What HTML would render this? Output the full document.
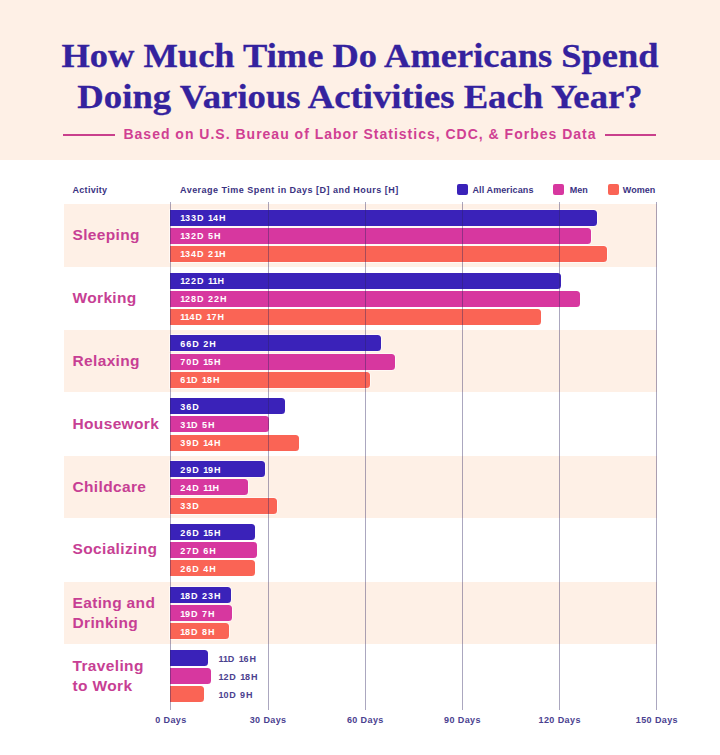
<!DOCTYPE html>
<html><head><meta charset="utf-8"><style>
html,body{margin:0;padding:0;background:#fff;}
body{width:720px;height:755px;position:relative;overflow:hidden;font-family:"Liberation Sans",sans-serif;}
.hdr{position:absolute;left:0;top:0;width:720px;height:160px;background:#fef0e6;}
.t1,.t2{position:absolute;left:0;width:720px;text-align:center;font-family:"Liberation Serif",serif;font-weight:bold;color:#34229e;white-space:nowrap;}
.t1{top:36.1px;font-size:34px;line-height:40px;transform:scaleX(1.072);-webkit-text-stroke:0.3px #34229e;}
.t2{top:76.8px;font-size:34px;line-height:40px;transform:scaleX(1.079);-webkit-text-stroke:0.3px #34229e;}
.sub{position:absolute;left:0;width:720px;top:123.5px;line-height:20px;text-align:center;font-size:14px;font-weight:bold;color:#d03f93;letter-spacing:1.0px;white-space:nowrap;}
.ln{position:absolute;top:133.8px;height:2px;background:#c9408c;}
.hd{position:absolute;top:184px;font-size:9px;line-height:12px;font-weight:bold;color:#3a3282;white-space:nowrap;}
.sq{position:absolute;top:184px;width:11px;height:11px;border-radius:2px;}
.band{position:absolute;left:64px;width:593px;background:#fef0e6;}
.grid{position:absolute;top:201.7px;height:508px;width:1.2px;background:rgba(45,35,95,0.4);}
.lab{position:absolute;left:72.5px;height:62px;line-height:62px;font-size:15.5px;font-weight:bold;color:#c73f94;letter-spacing:0.35px;white-space:nowrap;}
.lab.two{line-height:20px;padding-top:11px;height:auto;}
.bar{position:absolute;border-radius:0 3.5px 3.5px 0;box-shadow:0 0 0 0.8px rgba(255,255,255,0.8);}
.bt{position:absolute;font-size:9px;font-weight:bold;color:#fff;white-space:nowrap;letter-spacing:1.0px;}
.bt i{font-style:normal;letter-spacing:-0.1px;}
.bt.out{color:#4b418f;letter-spacing:0.9px;}
.ax{position:absolute;top:714px;width:80px;text-align:center;font-size:9px;line-height:12px;font-weight:bold;color:#4a4190;letter-spacing:0.4px;}
</style></head><body>
<div class="hdr"></div>
<div class="t1">How Much Time Do Americans Spend</div>
<div class="t2">Doing Various Activities Each Year?</div>
<div class="ln" style="left:63px;width:52px"></div>
<div class="sub">Based on U.S. Bureau of Labor Statistics, CDC, &amp; Forbes Data</div>
<div class="ln" style="left:605px;width:51px"></div>
<div class="hd" style="left:72.5px;letter-spacing:0.3px">Activity</div>
<div class="hd" style="left:180px;letter-spacing:0.48px">Average Time Spent in Days [D] and Hours [H]</div>
<div class="sq" style="left:457px;background:#3a22b9"></div>
<div class="hd" style="left:472.5px;letter-spacing:0.1px">All Americans</div>
<div class="sq" style="left:553px;background:#d7379f"></div>
<div class="hd" style="left:569.7px">Men</div>
<div class="sq" style="left:607.5px;background:#fa6455"></div>
<div class="hd" style="left:622.8px">Women</div>
<div class="band" style="top:204.30px;height:62.3px"></div>
<div class="band" style="top:330.16px;height:62.3px"></div>
<div class="band" style="top:456.02px;height:62.3px"></div>
<div class="band" style="top:581.88px;height:62.3px"></div>
<div class="lab" style="top:203.80px">Sleeping</div>
<div class="bar" style="top:209.60px;left:170.20px;width:426.40px;height:16px;background:#3a22b9"></div>
<div class="bt" style="top:210.20px;left:180.2px;height:16px;line-height:16px"><i>1</i>33D <i>1</i>4H</div>
<div class="bar" style="top:227.70px;left:170.20px;width:420.40px;height:16px;background:#d7379f"></div>
<div class="bt" style="top:228.30px;left:180.2px;height:16px;line-height:16px"><i>1</i>32D 5H</div>
<div class="bar" style="top:245.80px;left:170.20px;width:437.20px;height:16px;background:#fa6455"></div>
<div class="bt" style="top:246.40px;left:180.2px;height:16px;line-height:16px"><i>1</i>34D 2<i>1</i>H</div>
<div class="lab" style="top:266.73px">Working</div>
<div class="bar" style="top:272.53px;left:170.20px;width:391.10px;height:16px;background:#3a22b9"></div>
<div class="bt" style="top:273.13px;left:180.2px;height:16px;line-height:16px"><i>1</i>22D <i>1</i><i>1</i>H</div>
<div class="bar" style="top:290.63px;left:170.20px;width:409.70px;height:16px;background:#d7379f"></div>
<div class="bt" style="top:291.23px;left:180.2px;height:16px;line-height:16px"><i>1</i>28D 22H</div>
<div class="bar" style="top:308.73px;left:170.20px;width:371.30px;height:16px;background:#fa6455"></div>
<div class="bt" style="top:309.33px;left:180.2px;height:16px;line-height:16px"><i>1</i><i>1</i>4D <i>1</i>7H</div>
<div class="lab" style="top:329.66px">Relaxing</div>
<div class="bar" style="top:335.46px;left:170.20px;width:211.00px;height:16px;background:#3a22b9"></div>
<div class="bt" style="top:336.06px;left:180.2px;height:16px;line-height:16px">66D 2H</div>
<div class="bar" style="top:353.56px;left:170.20px;width:224.80px;height:16px;background:#d7379f"></div>
<div class="bt" style="top:354.16px;left:180.2px;height:16px;line-height:16px">70D <i>1</i>5H</div>
<div class="bar" style="top:371.66px;left:170.20px;width:199.80px;height:16px;background:#fa6455"></div>
<div class="bt" style="top:372.26px;left:180.2px;height:16px;line-height:16px">6<i>1</i>D <i>1</i>8H</div>
<div class="lab" style="top:392.59px">Housework</div>
<div class="bar" style="top:398.39px;left:170.20px;width:115.30px;height:16px;background:#3a22b9"></div>
<div class="bt" style="top:398.99px;left:180.2px;height:16px;line-height:16px">36D</div>
<div class="bar" style="top:416.49px;left:170.20px;width:99.30px;height:16px;background:#d7379f"></div>
<div class="bt" style="top:417.09px;left:180.2px;height:16px;line-height:16px">3<i>1</i>D 5H</div>
<div class="bar" style="top:434.59px;left:170.20px;width:128.50px;height:16px;background:#fa6455"></div>
<div class="bt" style="top:435.19px;left:180.2px;height:16px;line-height:16px">39D <i>1</i>4H</div>
<div class="lab" style="top:455.52px">Childcare</div>
<div class="bar" style="top:461.32px;left:170.20px;width:95.30px;height:16px;background:#3a22b9"></div>
<div class="bt" style="top:461.92px;left:180.2px;height:16px;line-height:16px">29D <i>1</i>9H</div>
<div class="bar" style="top:479.42px;left:170.20px;width:77.60px;height:16px;background:#d7379f"></div>
<div class="bt" style="top:480.02px;left:180.2px;height:16px;line-height:16px">24D <i>1</i><i>1</i>H</div>
<div class="bar" style="top:497.52px;left:170.20px;width:106.50px;height:16px;background:#fa6455"></div>
<div class="bt" style="top:498.12px;left:180.2px;height:16px;line-height:16px">33D</div>
<div class="lab" style="top:518.45px">Socializing</div>
<div class="bar" style="top:524.25px;left:170.20px;width:84.90px;height:16px;background:#3a22b9"></div>
<div class="bt" style="top:524.85px;left:180.2px;height:16px;line-height:16px">26D <i>1</i>5H</div>
<div class="bar" style="top:542.35px;left:170.20px;width:86.90px;height:16px;background:#d7379f"></div>
<div class="bt" style="top:542.95px;left:180.2px;height:16px;line-height:16px">27D 6H</div>
<div class="bar" style="top:560.45px;left:170.20px;width:84.70px;height:16px;background:#fa6455"></div>
<div class="bt" style="top:561.05px;left:180.2px;height:16px;line-height:16px">26D 4H</div>
<div class="lab two" style="top:582.38px">Eating and<br>Drinking</div>
<div class="bar" style="top:587.18px;left:170.20px;width:60.60px;height:16px;background:#3a22b9"></div>
<div class="bt" style="top:587.78px;left:180.2px;height:16px;line-height:16px"><i>1</i>8D 23H</div>
<div class="bar" style="top:605.28px;left:170.20px;width:61.50px;height:16px;background:#d7379f"></div>
<div class="bt" style="top:605.88px;left:180.2px;height:16px;line-height:16px"><i>1</i>9D 7H</div>
<div class="bar" style="top:623.38px;left:170.20px;width:59.00px;height:16px;background:#fa6455"></div>
<div class="bt" style="top:623.98px;left:180.2px;height:16px;line-height:16px"><i>1</i>8D 8H</div>
<div class="lab two" style="top:645.31px">Traveling<br>to Work</div>
<div class="bar" style="top:650.11px;left:170.20px;width:37.60px;height:16px;background:#3a22b9"></div>
<div class="bt out" style="top:650.71px;left:218.5px;height:16px;line-height:16px"><i>1</i><i>1</i>D <i>1</i>6H</div>
<div class="bar" style="top:668.21px;left:170.20px;width:40.60px;height:16px;background:#d7379f"></div>
<div class="bt out" style="top:668.81px;left:218.5px;height:16px;line-height:16px"><i>1</i>2D <i>1</i>8H</div>
<div class="bar" style="top:686.31px;left:170.20px;width:34.00px;height:16px;background:#fa6455"></div>
<div class="bt out" style="top:686.91px;left:218.5px;height:16px;line-height:16px"><i>1</i>0D 9H</div>
<div class="grid" style="left:170.30px"></div>
<div class="grid" style="left:267.50px"></div>
<div class="grid" style="left:364.70px"></div>
<div class="grid" style="left:461.90px"></div>
<div class="grid" style="left:559.10px"></div>
<div class="grid" style="left:656.30px"></div>
<div class="ax" style="left:130.90px">0 Days</div>
<div class="ax" style="left:228.10px">30 Days</div>
<div class="ax" style="left:325.30px">60 Days</div>
<div class="ax" style="left:422.50px">90 Days</div>
<div class="ax" style="left:519.70px">120 Days</div>
<div class="ax" style="left:616.90px">150 Days</div>
</body></html>
